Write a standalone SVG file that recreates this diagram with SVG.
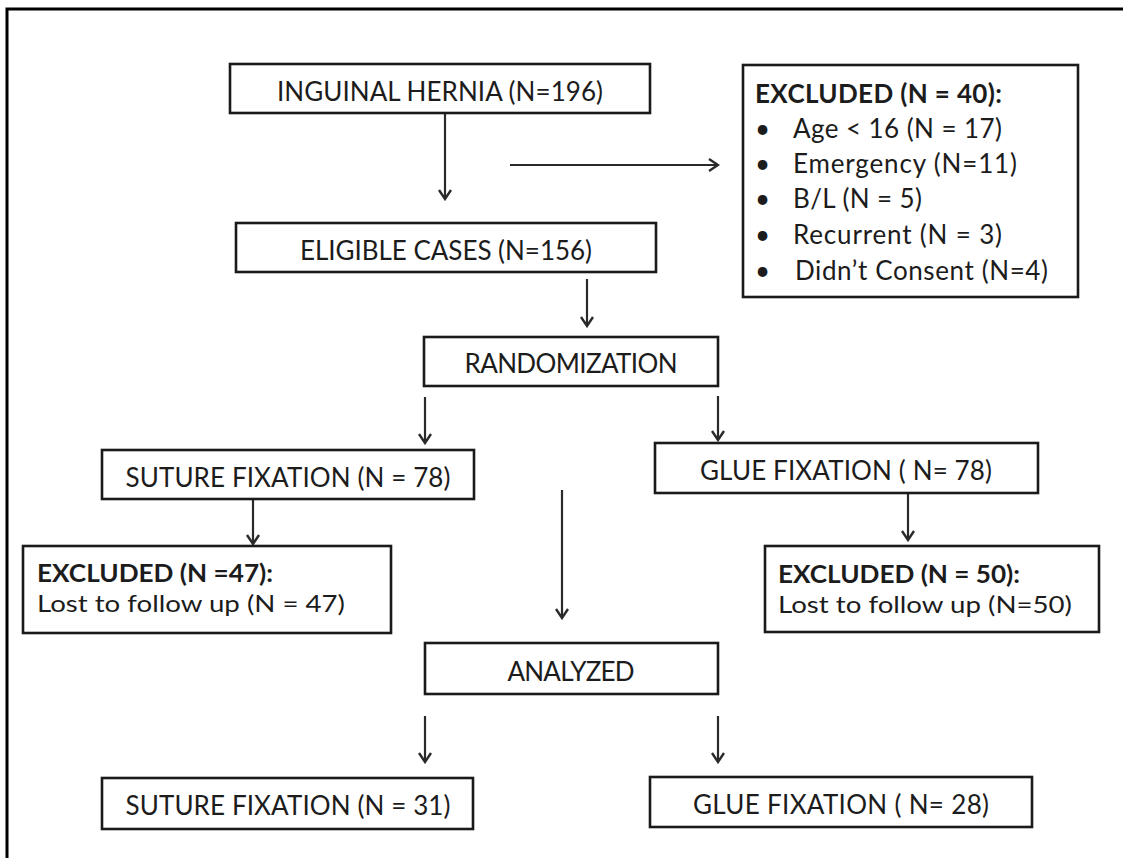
<svg xmlns="http://www.w3.org/2000/svg" width="1123" height="858" viewBox="0 0 1123 858">
<defs>
<style>
.box{fill:#fff;stroke:#1a1a1a;stroke-width:2.6}
.t{font-family:Lato,"Open Sans","Liberation Sans",sans-serif;font-size:26px;fill:#1c1c1c}
.s{font-size:24px}
.c{text-anchor:middle}
.b{font-weight:bold}
.ar{fill:none;stroke:#2a2a2a;stroke-width:2.2;marker-end:url(#ah)}
</style>
<marker id="ah" viewBox="-12 -8 14 16" markerWidth="14" markerHeight="16" refX="0" refY="0" orient="auto" markerUnits="userSpaceOnUse">
<path d="M-9,-6 L0,0 L-9,6" fill="none" stroke="#2a2a2a" stroke-width="2.4"/>
</marker>
</defs>
<rect width="1123" height="858" fill="#fff"/>
<rect x="7" y="9" width="1200" height="900" fill="none" stroke="#000" stroke-width="3"/>

<g id="connectors">
<line class="ar" x1="445" y1="113" x2="445" y2="199"/>
<line class="ar" x1="510" y1="165" x2="718" y2="165"/>
<line class="ar" x1="587" y1="279" x2="587" y2="326"/>
<line class="ar" x1="425" y1="397" x2="425" y2="443"/>
<line class="ar" x1="718" y1="396" x2="718" y2="440"/>
<line class="ar" x1="562" y1="490" x2="562" y2="618"/>
<line class="ar" x1="253" y1="500" x2="253" y2="544"/>
<line class="ar" x1="908" y1="494" x2="908" y2="540"/>
<line class="ar" x1="425" y1="716" x2="425" y2="762"/>
<line class="ar" x1="718" y1="716" x2="718" y2="762"/>
</g>

<g id="inguinal">
<rect class="box" x="230" y="64" width="420" height="49"/>
<text class="t c" x="440" y="101" textLength="326">INGUINAL HERNIA (N=196)</text>
</g>

<g id="excluded40">
<rect class="box" x="743" y="65" width="335" height="232"/>
<text class="t b" x="755" y="103" textLength="247">EXCLUDED (N = 40):</text>
<text class="t" x="755" y="138">•</text>
<text class="t" x="793" y="138" textLength="209">Age &lt; 16 (N = 17)</text>
<text class="t" x="755" y="173">•</text>
<text class="t" x="793" y="173" textLength="224">Emergency (N=11)</text>
<text class="t" x="755" y="208">•</text>
<text class="t" x="793" y="208" textLength="129">B/L (N = 5)</text>
<text class="t" x="755" y="244">•</text>
<text class="t" x="793" y="244" textLength="209">Recurrent (N = 3)</text>
<text class="t" x="755" y="280">•</text>
<text class="t" x="795" y="280" textLength="253">Didn’t Consent (N=4)</text>
</g>

<g id="eligible">
<rect class="box" x="236" y="223" width="420" height="49"/>
<text class="t c" x="446" y="260" textLength="292">ELIGIBLE CASES (N=156)</text>
</g>

<g id="randomization">
<rect class="box" x="424" y="337" width="294" height="49"/>
<text class="t c" x="571" y="373" textLength="213">RANDOMIZATION</text>
</g>

<g id="suture78">
<rect class="box" x="102" y="450" width="372" height="49"/>
<text class="t c" x="288" y="487" textLength="325">SUTURE FIXATION (N = 78)</text>
</g>

<g id="glue78">
<rect class="box" x="655" y="443" width="383" height="50"/>
<text class="t c" x="846" y="480" textLength="292">GLUE FIXATION ( N= 78)</text>
</g>

<g id="excluded47">
<rect class="box" x="23" y="546" width="368" height="87"/>
<text class="t s b" x="37" y="582" textLength="236" lengthAdjust="spacingAndGlyphs">EXCLUDED (N =47):</text>
<text class="t s" x="37" y="612" textLength="308" lengthAdjust="spacingAndGlyphs">Lost to follow up (N = 47)</text>
</g>

<g id="excluded50">
<rect class="box" x="765" y="546" width="334" height="86"/>
<text class="t s b" x="778" y="583" textLength="242" lengthAdjust="spacingAndGlyphs">EXCLUDED (N = 50):</text>
<text class="t s" x="778" y="613" textLength="294" lengthAdjust="spacingAndGlyphs">Lost to follow up (N=50)</text>
</g>

<g id="analyzed">
<rect class="box" x="425" y="643" width="293" height="51"/>
<text class="t c" x="571" y="681" textLength="127">ANALYZED</text>
</g>

<g id="suture31">
<rect class="box" x="102" y="778" width="371" height="51"/>
<text class="t c" x="288" y="815" textLength="325">SUTURE FIXATION (N = 31)</text>
</g>

<g id="glue28">
<rect class="box" x="650" y="777" width="382" height="50"/>
<text class="t c" x="841" y="814" textLength="296">GLUE FIXATION ( N= 28)</text>
</g>
</svg>
